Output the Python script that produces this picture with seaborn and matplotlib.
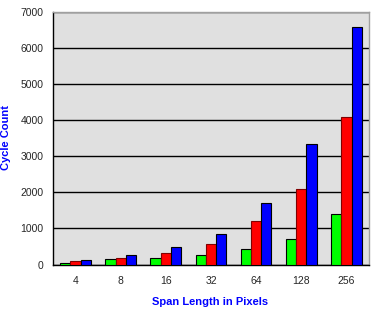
import matplotlib
matplotlib.use("Agg")
import matplotlib.pyplot as plt
import seaborn as sns
import pandas as pd
import numpy as np

categories = ["4", "8", "16", "32", "64", "128", "256"]
series_names = ["A", "B", "C"]
green_vals = [55, 148, 175, 258, 425, 700, 1385]
red_vals = [92, 185, 314, 563, 1200, 2087, 4081]
blue_vals = [120, 258, 480, 840, 1700, 3333, 6565]
colors = ["#00FF00", "#FF0000", "#0000FF"]
edge_colors = ["#000000", "#800000", "#000000"]

rows = []
for name, vals in zip(series_names, [green_vals, red_vals, blue_vals]):
    for c, v in zip(categories, vals):
        rows.append({"span": c, "series": name, "cycles": v})
df = pd.DataFrame(rows)

sns.set_style("white")
plt.rcParams["font.family"] = ["Liberation Sans", "DejaVu Sans"]

fig = plt.figure(figsize=(3.75, 3.09), dpi=100)
ax = fig.add_axes([0.1413, 0.144, 0.984 - 0.1413, 0.962 - 0.144])
ax.set_facecolor("#E0E0E0")

sns.barplot(data=df, x="span", y="cycles", hue="series", order=categories,
            hue_order=series_names, palette=colors, width=0.68, gap=0,
            saturation=1, edgecolor="black", linewidth=0.8, ax=ax,
            legend=False, zorder=3)
for cont, ec in zip(ax.containers, edge_colors):
    for p in cont:
        p.set_edgecolor(ec)

ax.set_ylim(0, 7000)
ax.set_xlim(-0.5, 6.5)
ax.set_yticks(np.arange(0, 7001, 1000))
ax.yaxis.grid(True, color="black", linewidth=1.0, zorder=1)
ax.set_axisbelow(True)
ax.xaxis.grid(False)

ax.set_xticks(range(len(categories)))
ax.set_xticklabels(categories)
ax.set_xticks(np.arange(-0.5, 6.6, 1), minor=True)
ax.tick_params(axis="x", which="major", length=0, pad=8, labelsize=7.5)
ax.tick_params(axis="x", which="minor", length=4, width=0.8, color="black", direction="out")
ax.tick_params(axis="y", length=4, width=0.8, color="black", direction="out", labelsize=7.5, pad=3)

for s in ["left", "bottom"]:
    ax.spines[s].set_color("black")
    ax.spines[s].set_linewidth(1.0)
for s in ["top", "right"]:
    ax.spines[s].set_color("#A0A0A0")
    ax.spines[s].set_linewidth(1.0)

ax.set_xlabel("Span Length in Pixels", color="#0000FF", fontweight="bold", fontsize=8, va="center")
ax.set_ylabel("Cycle Count", color="#0000FF", fontweight="bold", fontsize=8, va="center")
ax.xaxis.set_label_coords(0.496, -0.148)
ax.yaxis.set_label_coords(-0.149, 0.502)

fig.savefig("out.png", dpi=100)
